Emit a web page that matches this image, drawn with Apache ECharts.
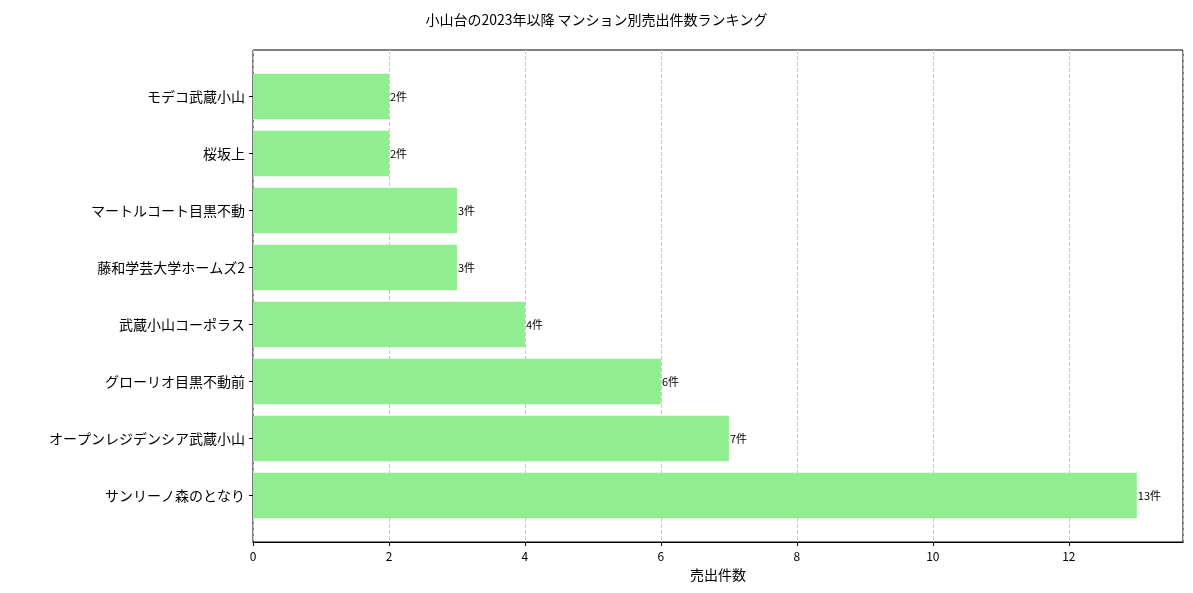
<!DOCTYPE html>
<html><head><meta charset="utf-8">
<script src="https://cdn.jsdelivr.net/npm/echarts@6/dist/echarts.min.js"></script>
<style>html,body{margin:0;padding:0}#c{width:1193px;height:593px}</style>
</head><body><div id="c"></div>
<script>
const categories = ['サンリーノ森のとなり','オープンレジデンシア武蔵小山','グローリオ目黒不動前','武蔵小山コーポラス','藤和学芸大学ホームズ2','マートルコート目黒不動','桜坂上','モデコ武蔵小山'];
const counts = [13,7,6,4,3,3,2,2];
const xTicks = [0,2,4,6,8,10,12];
const font = '"Noto Sans CJK JP", "DejaVu Sans", sans-serif';
const chart = echarts.init(document.getElementById('c'));
chart.setOption({
  animation:false,
  textStyle:{fontFamily:font},
  title:{text:'小山台の2023年以降 マンション別売出件数ランキング',left:'center',top:8,textStyle:{fontSize:14,fontWeight:'normal',color:'#000',fontFamily:font}},
  grid:[
    {left:253,right:10,top:50,bottom:51,show:true,borderColor:'#000',borderWidth:1,backgroundColor:'transparent'},
    {left:253,right:10,top:68,bottom:69}
  ],
  xAxis:[
    {gridIndex:0,type:'value',min:0,max:13.68,interval:2,
     axisLine:{show:true,lineStyle:{color:'#000'}},axisTick:{show:true,length:4,lineStyle:{color:'#000'}},
     axisLabel:{color:'#000',fontSize:12,showMaxLabel:false,formatter:v=>xTicks.includes(v)?String(v):''},
     splitLine:{show:true,lineStyle:{type:'dashed',color:'#c8c8c8'}},
     name:'売出件数',nameLocation:'middle',nameGap:26,nameTextStyle:{fontSize:14,color:'#000'}},
    {gridIndex:1,type:'value',min:0,max:13.68,show:false}
  ],
  yAxis:[
    {gridIndex:0,type:'value',min:0,max:1,show:false},
    {gridIndex:1,type:'category',data:categories,
     axisLine:{show:false},axisTick:{show:true,alignWithLabel:true,length:4,lineStyle:{color:'#000'}},
     axisLabel:{color:'#000',fontSize:14,margin:8}}
  ],
  series:[{type:'bar',xAxisIndex:1,yAxisIndex:1,data:counts,barCategoryGap:'20%',
    itemStyle:{color:'#90EE90'},
    label:{show:true,position:'right',distance:1,color:'#000',fontSize:11,formatter:p=>p.value+'件'}}]
});
</script></body></html>
